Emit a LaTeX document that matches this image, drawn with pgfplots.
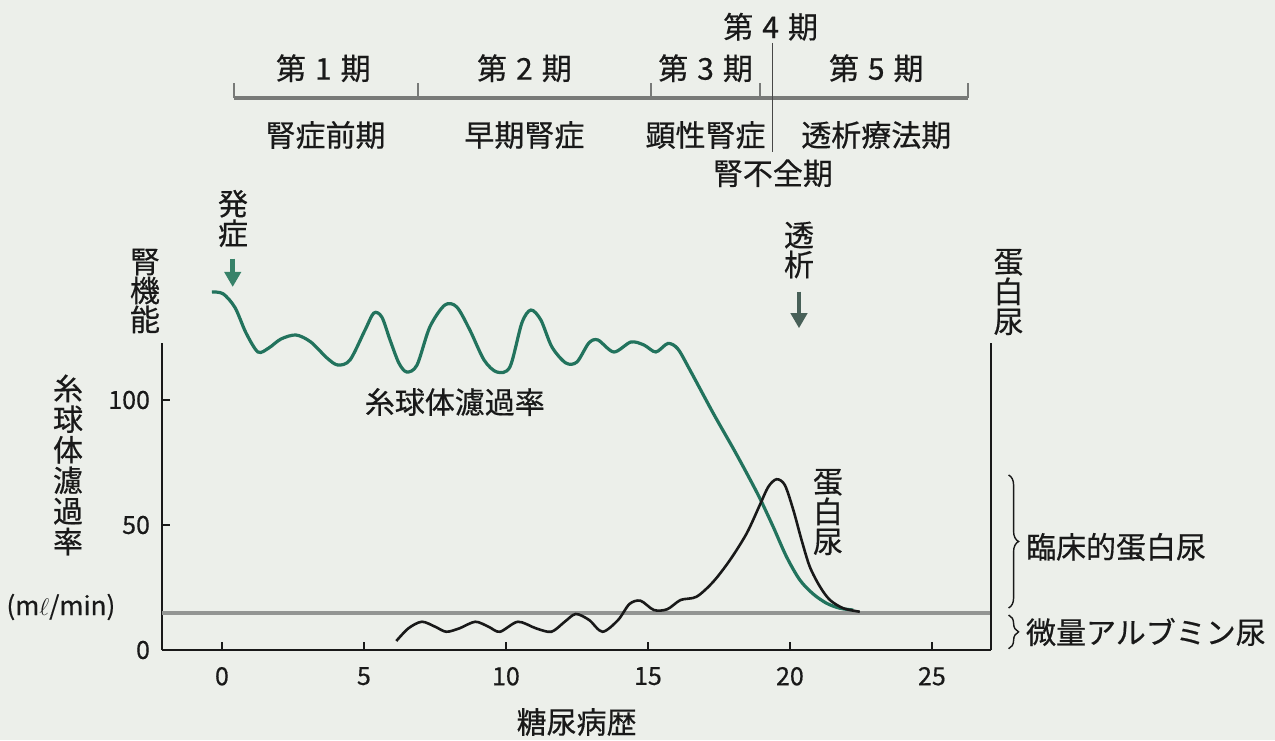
\documentclass[border=0pt]{standalone}
\usepackage{fontspec}
\setmainfont{Noto Sans CJK JP}[FakeBold=0.5]
\usepackage{pgfplots}
\pgfplotsset{compat=1.18}
\usetikzlibrary{decorations.pathreplacing,arrows.meta}
\definecolor{bg}{RGB}{236,239,234}
\definecolor{gfr}{RGB}{34,115,93}
\definecolor{arr}{RGB}{55,130,105}
\definecolor{arrb}{RGB}{72,96,88}
\definecolor{stg}{RGB}{120,122,120}
\definecolor{ink}{RGB}{25,25,25}

\begin{document}
\begin{tikzpicture}[font=\fontsize{15}{16}\selectfont, text=ink]
\fill[bg] (-81pt,-45pt) rectangle (556.5pt,325pt);
\begin{axis}[
  at={(0,0)}, anchor=south west,
  scale only axis, width=414.5pt, height=153.5pt,
  xmin=-2.11, xmax=27.08, ymin=0, ymax=122.8,
  axis x line*=bottom, axis y line*=left,
  axis line style={line width=1pt, ink},
  tick align=inside, major tick length=4pt,
  tick style={ink, line width=0.8pt},
  xtick={0,5,10,15,20,25}, ytick={0,50,100},
  ticklabel style={font=\fontsize{12.5}{14}\selectfont, text=ink},
  xticklabel style={yshift=-5pt},
  yticklabel style={xshift=-2.5pt},
  /pgf/number format/assume math mode=true,
  clip=false,
]
% reference line for microalbuminuria threshold
\addplot[color=stg!80, line width=2pt] coordinates {(-2.11,15) (27.08,15)};

% glomerular filtration rate
\addplot[color=gfr, line width=1.6pt, smooth, tension=0.5] coordinates {
(-0.35,143.2) (0.04,142.5) (0.46,137) (0.85,126.8) (1.27,119.2) (1.65,120.8)
(2.08,124.4) (2.61,126) (3.13,123.2) (3.70,116.8) (4.08,114) (4.51,116)
(5.04,128) (5.35,134.8) (5.63,133.2) (5.92,124) (6.23,114.8) (6.51,111.2)
(6.87,114) (7.32,129.2) (7.85,138) (8.27,137.2) (8.73,128) (9.23,116)
(9.68,111.2) (10.14,113.2) (10.56,130.8) (10.88,136) (11.23,132) (11.62,121.2)
(12.11,114.8) (12.5,115.2) (12.92,122.8) (13.24,124) (13.8,119.2) (14.4,123.2)
(14.86,122) (15.28,119.2) (15.7,122.6) (16.05,120.5) (16.48,112) (17.3,94.7)
(18.0,80.7) (18.48,70.7) (18.94,60.7) (19.41,49.3) (19.88,37.3) (20.35,28)
(20.82,22.4) (21.29,18.7) (21.76,16.7) (22.23,16)
};

% proteinuria
\addplot[color=ink, line width=1.3pt, smooth, tension=0.5] coordinates {
(6.14,3.6) (6.57,8.7) (7.04,11.3) (7.51,9.3) (7.9,7.3) (8.37,8.7)
(8.92,11.3) (9.39,9.3) (9.79,7.3) (10.42,11.3) (11.05,8.7) (11.6,7.3)
(12.07,11.3) (12.46,14.4) (12.93,12) (13.4,7.3) (13.95,12) (14.35,18.4)
(14.74,19.7) (15.21,16) (15.68,16.3) (16.15,20) (16.71,21.3) (17.3,27.3)
(17.89,36) (18.48,46.7) (18.94,58) (19.24,65.3) (19.53,68.3) (19.82,66)
(20.12,56) (20.41,44) (20.7,33.3) (21.06,25.3) (21.41,20) (21.88,16.7)
(22.46,15.3)
};

% right axis line
\draw[ink, line width=1pt] (axis cs:27.08,0) -- (axis cs:27.08,122.8);

% stage bar
\draw[stg, line width=2pt] (axis cs:0.42,220.8) -- (axis cs:26.27,220.8);
\draw[stg, line width=0.8pt] (axis cs:0.42,220.8) -- (axis cs:0.42,226.8);
\draw[stg, line width=0.8pt] (axis cs:6.9,220.8) -- (axis cs:6.9,226.8);
\draw[stg, line width=0.8pt] (axis cs:15.1,220.8) -- (axis cs:15.1,226.8);
\draw[stg, line width=0.8pt] (axis cs:18.94,220.8) -- (axis cs:18.94,226.8);
\draw[stg, line width=0.8pt] (axis cs:26.27,220.8) -- (axis cs:26.27,226.8);
\draw[ink!80, line width=0.6pt] (axis cs:19.4,242.8) -- (axis cs:19.4,199.2);

\node at (axis cs:3.57,232.7) {第\hspace{0.3em}1\hspace{0.3em}期};
\node at (axis cs:10.65,232.7) {第\hspace{0.3em}2\hspace{0.3em}期};
\node at (axis cs:17.03,232.7) {第\hspace{0.3em}3\hspace{0.3em}期};
\node at (axis cs:19.32,249.3) {第\hspace{0.3em}4\hspace{0.3em}期};
\node at (axis cs:23.04,232.7) {第\hspace{0.3em}5\hspace{0.3em}期};
\node at (axis cs:3.65,206) {腎症前期};
\node at (axis cs:10.65,206) {早期腎症};
\node at (axis cs:17.03,206) {顕性腎症};
\node at (axis cs:23.04,206) {透析療法期};
\node at (axis cs:19.4,190.7) {腎不全期};

% onset and dialysis markers
\node[align=center, font=\fontsize{15}{14.8}\selectfont] at (axis cs:0.39,172.6) {発\\症};
\draw[arr, line width=2.6pt, -{Triangle[length=7.5pt,width=8pt]}] (axis cs:0.38,156.5) -- (axis cs:0.38,145.2);
\node[align=center, font=\fontsize{15}{14.8}\selectfont] at (axis cs:20.32,160) {透\\析};
\draw[arrb, line width=2.4pt, -{Triangle[length=7.5pt,width=8pt]}] (axis cs:20.32,143.3) -- (axis cs:20.32,128.7);

% axis titles
\node[align=center, font=\fontsize{15}{14.5}\selectfont] at (axis cs:-2.71,143.6) {腎\\機\\能};
\node[align=center, font=\fontsize{15}{15}\selectfont] at (axis cs:27.7,143.2) {蛋\\白\\尿};
\node[align=center, font=\fontsize{15}{15.3}\selectfont] at (axis cs:-5.42,74) {糸\\球\\体\\濾\\過\\率};
\node[font=\fontsize{13}{14}\selectfont] at (axis cs:-5.67,17.2) {(m$\ell$/min)};
\node at (axis cs:12.49,-28.8) {糖尿病歴};

% in-plot labels
\node at (axis cs:8.2,99.2) {糸球体濾過率};
\node[align=center, font=\fontsize{15}{15}\selectfont] at (axis cs:21.34,55.2) {蛋\\白\\尿};

% braces
\draw[ink, line width=0.7pt, decorate, decoration={brace, amplitude=5pt}] (axis cs:27.7,70) -- (axis cs:27.7,16.8);
\draw[ink, line width=0.7pt, decorate, decoration={brace, amplitude=5pt}] (axis cs:27.7,14) -- (axis cs:27.7,0.5);
\node[anchor=west, inner sep=0pt] at (axis cs:28.3,41.2) {臨床的蛋白尿};
\node[anchor=west, inner sep=0pt] at (axis cs:28.3,7.2) {微量アルブミン尿};
\end{axis}
\pgfresetboundingbox
\path (-81pt,-45pt) rectangle (556.5pt,325pt);
\end{tikzpicture}
\end{document}
